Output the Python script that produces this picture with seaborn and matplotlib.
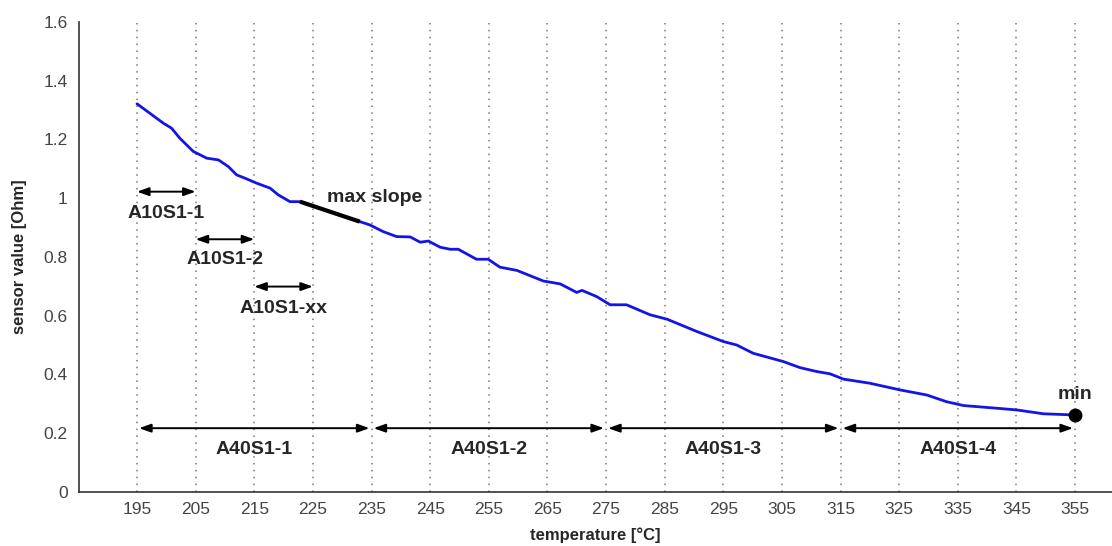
import matplotlib
matplotlib.use("Agg")
import matplotlib.pyplot as plt
import seaborn as sns
import pandas as pd

# ---- data ----
temperature = [195.0, 199.5, 200.9, 202.3, 204.6, 206.9, 208.9, 210.6, 212.0, 213.4,
               215.4, 217.7, 219.1, 221.1, 222.8, 233.0, 234.7, 237.0, 239.3, 241.6,
               243.3, 244.7, 246.7, 248.4, 249.8, 252.9, 254.9, 256.9, 259.8, 264.3,
               267.2, 270.0, 270.9, 273.4, 275.7, 278.5, 282.5, 285.4, 290.5, 295.0,
               297.3, 300.1, 305.2, 308.1, 310.9, 313.2, 315.5, 320.0, 325.2, 329.7,
               333.1, 336.0, 341.6, 345.1, 349.6, 355.0]
sensor_value = [1.321, 1.255, 1.238, 1.204, 1.159, 1.136, 1.130, 1.107, 1.079, 1.068,
                1.051, 1.034, 1.011, 0.988, 0.988, 0.920, 0.909, 0.886, 0.869, 0.868,
                0.850, 0.854, 0.833, 0.826, 0.826, 0.792, 0.792, 0.765, 0.754, 0.718,
                0.708, 0.679, 0.686, 0.665, 0.637, 0.637, 0.603, 0.588, 0.546, 0.512,
                0.500, 0.472, 0.444, 0.423, 0.410, 0.402, 0.384, 0.370, 0.347, 0.330,
                0.307, 0.294, 0.285, 0.279, 0.266, 0.262]

slope_x = [222.8, 233.0]
slope_y = [0.988, 0.920]

min_x = 355.0
min_y = 0.262

xticks = [195, 205, 215, 225, 235, 245, 255, 265, 275, 285, 295, 305, 315, 325, 335, 345, 355]
yticks = [0, 0.2, 0.4, 0.6, 0.8, 1.0, 1.2, 1.4, 1.6]
ytick_labels = ["0", "0.2", "0.4", "0.6", "0.8", "1", "1.2", "1.4", "1.6"]

small_names = ["A10S1-1", "A10S1-2", "A10S1-xx"]
small_start = [195, 205, 215]
small_end = [205, 215, 225]
small_arrow_y = [1.022, 0.860, 0.699]
small_label_y = [0.949, 0.790, 0.625]

big_names = ["A40S1-1", "A40S1-2", "A40S1-3", "A40S1-4"]
big_start = [195, 235, 275, 315]
big_end = [235, 275, 315, 355]
big_arrow_y = 0.217
big_label_y = 0.143

# ---- plotting ----
sns.set_style("white")
plt.rcParams["font.family"] = ["Liberation Sans", "DejaVu Sans"]

fig = plt.figure(figsize=(11.12, 5.46), dpi=100)
ax = fig.add_axes([0.071, 0.099, 0.929, 0.861])

df = pd.DataFrame({"temperature": temperature, "sensor": sensor_value})
sns.lineplot(data=df, x="temperature", y="sensor", ax=ax, color="#1414e6",
             linewidth=2.0, zorder=3)

ax.plot(slope_x, slope_y, color="black", linewidth=3, zorder=4, solid_capstyle="butt")
ax.plot([min_x], [min_y], "o", color="black", markersize=9, zorder=5)
ax.text(min_x, 0.33, "min", ha="center", va="center", fontsize=14, fontweight="bold")
ax.text(227.4, 1.003, "max slope", ha="left", va="center", fontsize=14, fontweight="bold")

arrow_style = dict(arrowstyle="<|-|>,head_length=0.7,head_width=0.25", color="black",
                   lw=1.4, shrinkA=0, shrinkB=0)
for name, s, e, ay, ly in zip(small_names, small_start, small_end, small_arrow_y, small_label_y):
    ax.annotate("", xy=(e, ay), xytext=(s, ay), arrowprops=arrow_style)
    ax.text((s + e) / 2, ly, name, ha="center", va="center", fontsize=14, fontweight="bold")

big_style = dict(arrow_style, shrinkA=1.5, shrinkB=1.5)
for name, s, e in zip(big_names, big_start, big_end):
    ax.annotate("", xy=(e, big_arrow_y), xytext=(s, big_arrow_y), arrowprops=big_style)
    ax.text((s + e) / 2, big_label_y, name, ha="center", va="center", fontsize=14,
            fontweight="bold")

ax.set_xlim(185.1, 361.3)
ax.set_ylim(0, 1.6)
ax.set_xticks(xticks)
ax.set_yticks(yticks)
ax.set_yticklabels(ytick_labels)
ax.xaxis.grid(True, linestyle=(0, (1, 3.5)), color="#777777", linewidth=1.1)
ax.yaxis.grid(False)
ax.tick_params(direction="in", length=7, width=1, colors="#333333", labelsize=12.5,
               labelcolor="#444444")
ax.tick_params(axis="x", pad=7)
ax.tick_params(axis="y", pad=8)

for side in ["top", "right"]:
    ax.spines[side].set_visible(False)
for side in ["left", "bottom"]:
    ax.spines[side].set_color("#333333")
    ax.spines[side].set_linewidth(1.2)

ax.set_xlabel("temperature [°C]", fontsize=12, fontweight="bold", labelpad=8)
ax.set_ylabel("sensor value [Ohm]", fontsize=12, fontweight="bold", labelpad=12)

fig.savefig("out.png", dpi=100)
